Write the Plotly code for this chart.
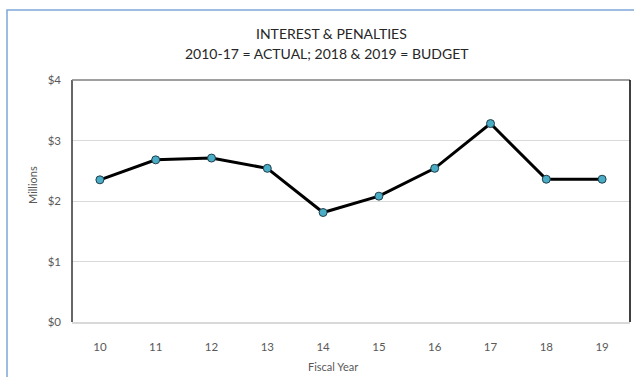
import plotly.graph_objects as go

# Fiscal years (two-digit) and interest & penalties revenue in $ millions
fiscal_years = ["10", "11", "12", "13", "14", "15", "16", "17", "18", "19"]
revenue_millions = [2.35, 2.68, 2.71, 2.54, 1.81, 2.08, 2.54, 3.28, 2.36, 2.36]
y_tick_values = [0, 1, 2, 3, 4]
y_tick_labels = ["$0", "$1", "$2", "$3", "$4"]

W, H = 634, 377
L, R, T, B = 72, 630, 80, 322  # plot area in pixels


def px_x(p):
    return (p - L) / (R - L)


def px_y(p):
    return (B - p) / (B - T)


FONT = "Lato, Carlito, Calibri, sans-serif"
GREY = "#595959"

fig = go.Figure()
fig.add_trace(go.Scatter(
    x=fiscal_years,
    y=revenue_millions,
    mode="lines+markers",
    line=dict(color="black", width=3),
    marker=dict(color="#4BACC6", size=8, line=dict(color="#1F3F4A", width=1)),
    showlegend=False,
))


def label(text, x, y, size, color, angle=0):
    return dict(text=text, xref="paper", yref="paper",
                x=px_x(x), y=px_y(y), xanchor="center", yanchor="middle",
                showarrow=False, textangle=angle,
                font=dict(size=size, color=color))


fig.update_layout(
    width=W, height=H,
    margin=dict(l=L, r=W - R, t=T, b=H - B),
    paper_bgcolor="white",
    plot_bgcolor="white",
    font=dict(family=FONT, color=GREY, size=11),
    xaxis=dict(
        type="category",
        range=[-0.5, len(fiscal_years) - 0.5],
        showgrid=False,
        showline=True, linecolor="#D9D9D9", linewidth=2,
        ticks="", tickfont=dict(size=11.5, color=GREY),
        ticklabelstandoff=13,
    ),
    yaxis=dict(
        range=[0, 4],
        tickvals=y_tick_values,
        ticktext=y_tick_labels,
        showgrid=True, gridcolor="#D9D9D9", gridwidth=1,
        zeroline=False,
        showline=False,
        ticks="", tickfont=dict(size=11.5, color=GREY),
        ticklabelstandoff=10,
    ),
    shapes=[
        # chart area border
        dict(type="rect", xref="paper", yref="paper",
             x0=px_x(7), x1=px_x(660), y0=px_y(10), y1=px_y(400),
             line=dict(color="#7EA6D8", width=1.5), layer="below"),
        # plot area frame: left, top, right
        dict(type="line", xref="paper", yref="paper",
             x0=0, x1=0, y0=0, y1=1, line=dict(color="#333333", width=1.5)),
        dict(type="line", xref="paper", yref="paper",
             x0=0, x1=1, y0=1, y1=1, line=dict(color="#7F7F7F", width=1.5)),
        dict(type="line", xref="paper", yref="paper",
             x0=1, x1=1, y0=0, y1=1, line=dict(color="black", width=1.5)),
    ],
    annotations=[
        label("INTEREST & PENALTIES", 331, 33, 14, "#262626"),
        label("2010-17 = ACTUAL; 2018 & 2019 = BUDGET", 327, 54, 14, "#262626"),
        label("Millions", 32, 185, 11, GREY, angle=-90),
        label("Fiscal Year", 333, 366, 11, GREY),
    ],
)

fig.write_html("out.html")
